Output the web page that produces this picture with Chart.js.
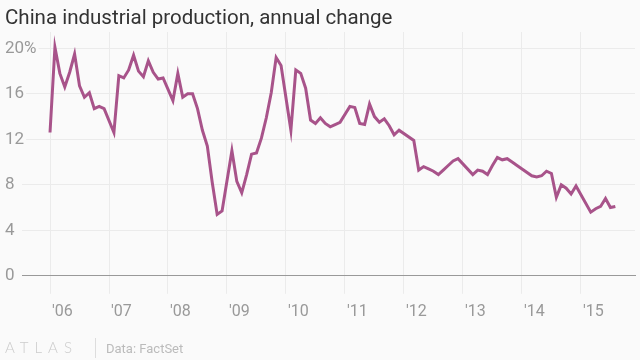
<!DOCTYPE html>
<html>
<head>
<meta charset="utf-8">
<script src="https://cdn.jsdelivr.net/npm/chart.js@4"></script>
<style>
  html, body { margin: 0; padding: 0; background: #fafafa; }
  #wrap { width: 640px; height: 360px; position: relative; }
</style>
</head>
<body>
<div id="wrap"><canvas id="c" width="640" height="360"></canvas></div>
<script>
// China industrial production, year-on-year % change, monthly (null = no separate January / Jan-Feb reading)
const ip2006 = [12.6, 20.1, 17.8, 16.6, 17.9, 19.5, 16.7, 15.7, 16.1, 14.7, 14.9, 14.7];
const ip2007 = [null, 12.6, 17.6, 17.4, 18.1, 19.4, 18.0, 17.5, 18.9, 17.9, 17.3, 17.4];
const ip2008 = [null, 15.4, 17.8, 15.7, 16.0, 16.0, 14.7, 12.8, 11.4, 8.2, 5.4, 5.7];
const ip2009 = [null, 11.0, 8.3, 7.3, 8.9, 10.7, 10.8, 12.1, 13.9, 16.1, 19.2, 18.5];
const ip2010 = [null, 12.8, 18.1, 17.8, 16.5, 13.7, 13.4, 13.9, 13.4, 13.1, 13.3, 13.5];
const ip2011 = [null, 14.9, 14.8, 13.4, 13.3, 15.1, 14.0, 13.5, 13.8, 13.2, 12.4, 12.8];
const ip2012 = [null, null, 11.9, 9.3, 9.6, 9.4, 9.2, 8.9, 9.3, 9.7, 10.1, 10.3];
const ip2013 = [null, null, 8.9, 9.3, 9.2, 8.9, 9.7, 10.4, 10.2, 10.3, 10.0, 9.7];
const ip2014 = [null, null, 8.8, 8.7, 8.8, 9.2, 9.0, 6.9, 8.0, 7.7, 7.2, 7.9];
const ip2015 = [null, null, 5.6, 5.9, 6.1, 6.8, 6.0, 6.1];

const yearTickLabels = ["'06", "'07", "'08", "'09", "'10", "'11", "'12", "'13", "'14", "'15"];
const yTickValues = [0, 4, 8, 12, 16, 20];
const yTickLabels = ['0', '4', '8', '12', '16', '20%'];

const allValues = [].concat(ip2006, ip2007, ip2008, ip2009, ip2010, ip2011, ip2012, ip2013, ip2014, ip2015);
const points = allValues.map((v, i) => ({ x: i, y: v })); // x = months since Jan 2006

const textPlugin = {
  id: 'texts',
  afterDraw(chart) {
    const ctx = chart.ctx;
    ctx.save();
    ctx.fillStyle = '#333333';
    ctx.font = '20.5px Roboto';
    ctx.textBaseline = 'alphabetic';
    ctx.textAlign = 'left';
    ctx.fillText('China industrial production, annual change', 5, 24);
    ctx.fillStyle = '#cccccc';
    ctx.font = '300 15px Lato';
    if ('letterSpacing' in ctx) ctx.letterSpacing = '6px';
    ctx.fillText('ATLAS', 5, 353);
    if ('letterSpacing' in ctx) ctx.letterSpacing = '0px';
    ctx.strokeStyle = '#dddddd';
    ctx.lineWidth = 1;
    ctx.beginPath();
    ctx.moveTo(95.5, 338);
    ctx.lineTo(95.5, 358);
    ctx.stroke();
    ctx.fillStyle = '#bbbbbb';
    ctx.font = '13px Roboto';
    ctx.fillText('Data: FactSet', 106, 353);
    ctx.restore();
  }
};

new Chart(document.getElementById('c'), {
  type: 'line',
  data: {
    datasets: [{
      data: points,
      borderColor: '#a8538a',
      borderWidth: 3,
      pointRadius: 0,
      tension: 0,
      spanGaps: true,
      fill: false
    }]
  },
  options: {
    responsive: false,
    animation: false,
    events: [],
    layout: { padding: { left: 22, right: 5, top: 32, bottom: 29 } },
    plugins: { legend: { display: false }, tooltip: { enabled: false }, title: { display: false } },
    scales: {
      x: {
        type: 'linear',
        min: -5.7,
        max: 119,
        afterBuildTicks(scale) {
          scale.ticks = yearTickLabels.map((_, i) => ({ value: i * 12 }));
        },
        grid: { color: '#ebebeb', lineWidth: 1, tickLength: 18, drawTicks: true },
        border: { display: true, color: '#999999', width: 1 },
        ticks: {
          autoSkip: false,
          maxRotation: 0,
          align: 'start',
          labelOffset: 2,
          padding: 9,
          color: '#999999',
          font: { family: 'Roboto', size: 16 },
          callback: (v, i) => yearTickLabels[i]
        }
      },
      y: {
        min: 0,
        max: 21.44,
        afterBuildTicks(scale) {
          scale.ticks = yTickValues.map(v => ({ value: v }));
        },
        afterFit(scale) { scale.width = 0; },
        grid: { color: '#ebebeb', lineWidth: 1, drawTicks: false, tickLength: 0 },
        border: { display: false },
        ticks: {
          mirror: true,
          crossAlign: 'near',
          padding: -17,
          color: '#999999',
          font: { family: 'Roboto', size: 17 },
          showLabelBackdrop: true,
          backdropColor: '#fafafa',
          backdropPadding: { top: 0, bottom: 0, left: 0, right: 2 },
          callback: (v, i) => yTickLabels[i]
        }
      }
    }
  },
  plugins: [textPlugin]
});
</script>
</body>
</html>
